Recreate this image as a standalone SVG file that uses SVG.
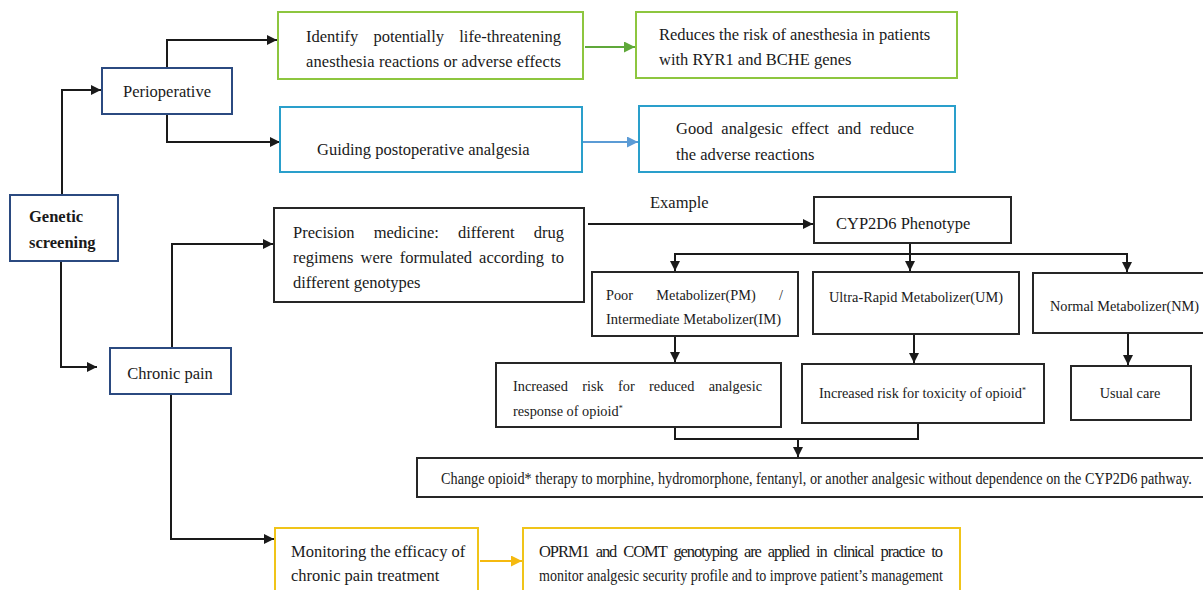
<svg xmlns="http://www.w3.org/2000/svg" width="1203" height="590" viewBox="0 0 1203 590">
<style>
text{font-family:"Liberation Serif","Times New Roman",serif;fill:#1a1a1a;font-size:16.5px}
.s{font-size:14.3px}
.b{font-weight:bold}
.sup{font-size:8px;baseline-shift:5px}
.box{fill:#fff;stroke:#262626;stroke-width:2}
.navy{fill:#fff;stroke:#2B4A80;stroke-width:2}
.green{fill:#fff;stroke:#8DC63F;stroke-width:2}
.blue{fill:#fff;stroke:#2A9FCB;stroke-width:2}
.yellow{fill:#fff;stroke:#F0C419;stroke-width:2}
.c{fill:none;stroke:#1a1a1a;stroke-width:2}
</style>
<defs>
<marker id="ah" viewBox="0 0 10 10" refX="10" refY="5" markerWidth="10" markerHeight="10" markerUnits="userSpaceOnUse" orient="auto"><path d="M0,0L10,5L0,10z" fill="#1a1a1a"/></marker>
<marker id="ahg" viewBox="0 0 10 10" refX="10" refY="5" markerWidth="11" markerHeight="11" markerUnits="userSpaceOnUse" orient="auto"><path d="M0,0L10,5L0,10z" fill="#5FA83A"/></marker>
<marker id="ahb" viewBox="0 0 10 10" refX="10" refY="5" markerWidth="11" markerHeight="11" markerUnits="userSpaceOnUse" orient="auto"><path d="M0,0L10,5L0,10z" fill="#5B9BD5"/></marker>
<marker id="ahy" viewBox="0 0 10 10" refX="10" refY="5" markerWidth="11" markerHeight="11" markerUnits="userSpaceOnUse" orient="auto"><path d="M0,0L10,5L0,10z" fill="#F5B90F"/></marker>
</defs>
<rect width="1203" height="590" fill="#fff"/>
<g id="connectors">
<path class="c" d="M62,195V90H101" marker-end="url(#ah)"/>
<path class="c" d="M61,261V367H97" marker-end="url(#ah)"/>
<path class="c" d="M167,68V40H277" marker-end="url(#ah)"/>
<path class="c" d="M167,114V142H280" marker-end="url(#ah)"/>
<path d="M585,47H635" fill="none" stroke="#5FA83A" stroke-width="2" marker-end="url(#ahg)"/>
<path d="M583,142H638" fill="none" stroke="#5B9BD5" stroke-width="2" marker-end="url(#ahb)"/>
<path class="c" d="M172,348V244H273" marker-end="url(#ah)"/>
<path class="c" d="M171,394V539H274" marker-end="url(#ah)"/>
<path d="M480,561H522" fill="none" stroke="#F5B90F" stroke-width="2" marker-end="url(#ahy)"/>
<path class="c" d="M588,224H813" marker-end="url(#ah)"/>
<path class="c" d="M910,243V254"/>
<path class="c" d="M674,254H1128"/>
<path class="c" d="M675,253V271" marker-end="url(#ah)"/>
<path class="c" d="M910,253V271" marker-end="url(#ah)"/>
<path class="c" d="M1127,253V272" marker-end="url(#ah)"/>
<path class="c" d="M675,336V362" marker-end="url(#ah)"/>
<path class="c" d="M914,334V363" marker-end="url(#ah)"/>
<path class="c" d="M1128,333V365" marker-end="url(#ah)"/>
<path class="c" d="M675,427V439H918V423"/>
<path class="c" d="M798,439V457" marker-end="url(#ah)"/>
</g>
<g id="genetic-screening">
<rect class="navy" x="10" y="195" width="108" height="66"/>
<text class="b" x="29" y="222">Genetic</text>
<text class="b" x="29" y="248">screening</text>
</g>
<g id="perioperative">
<rect class="navy" x="102" y="68" width="130" height="46"/>
<text x="167" y="97" text-anchor="middle">Perioperative</text>
</g>
<g id="chronic-pain">
<rect class="navy" x="110" y="348" width="121" height="46"/>
<text x="170" y="379" text-anchor="middle">Chronic pain</text>
</g>
<g id="identify">
<rect class="green" x="278" y="12" width="305" height="67"/>
<text x="306" y="42" word-spacing="11" textLength="255" lengthAdjust="spacing">Identify potentially life-threatening</text>
<text x="306" y="67" textLength="255" lengthAdjust="spacing">anesthesia reactions or adverse effects</text>
</g>
<g id="reduces">
<rect class="green" x="636" y="12" width="321" height="66"/>
<text x="659" y="40">Reduces the risk of anesthesia in patients</text>
<text x="659" y="65">with RYR1 and BCHE genes</text>
</g>
<g id="guiding">
<rect class="blue" x="280" y="107" width="302" height="65"/>
<text x="317" y="155">Guiding postoperative analgesia</text>
</g>
<g id="good">
<rect class="blue" x="639" y="106" width="316" height="66"/>
<text x="676" y="134" word-spacing="4.5" textLength="238" lengthAdjust="spacing">Good analgesic effect and reduce</text>
<text x="676" y="160">the adverse reactions</text>
</g>
<g id="precision">
<rect class="box" x="274" y="208" width="310" height="94"/>
<text x="293" y="238" word-spacing="15" textLength="271" lengthAdjust="spacing">Precision medicine: different drug</text>
<text x="293" y="263" word-spacing="3" textLength="271" lengthAdjust="spacing">regimens were formulated according to</text>
<text x="293" y="288">different genotypes</text>
</g>
<g id="example-label">
<text x="650" y="208">Example</text>
</g>
<g id="cyp2d6">
<rect class="box" x="814" y="197" width="197" height="46"/>
<text x="836" y="229">CYP2D6 Phenotype</text>
</g>
<g id="pm-im">
<rect class="box" x="592" y="272" width="206" height="64"/>
<text class="s" x="606" y="300" word-spacing="19.8" textLength="177" lengthAdjust="spacing">Poor Metabolizer(PM) /</text>
<text class="s" x="606" y="324" textLength="175" lengthAdjust="spacingAndGlyphs">Intermediate Metabolizer(IM)</text>
</g>
<g id="um">
<rect class="box" x="813" y="272" width="206" height="62"/>
<text class="s" x="829" y="302" textLength="174" lengthAdjust="spacingAndGlyphs">Ultra-Rapid Metabolizer(UM)</text>
</g>
<g id="nm">
<rect class="box" x="1033" y="273" width="190" height="60"/>
<text class="s" x="1050" y="311" textLength="149" lengthAdjust="spacingAndGlyphs">Normal Metabolizer(NM)</text>
</g>
<g id="pm-result">
<rect class="box" x="496" y="363" width="285" height="64"/>
<text class="s" x="513" y="391" word-spacing="10.8" textLength="249" lengthAdjust="spacing">Increased risk for reduced analgesic</text>
<text class="s" x="513" y="416">response of opioid<tspan class="sup">*</tspan></text>
</g>
<g id="um-result">
<rect class="box" x="802" y="364" width="242" height="59"/>
<text class="s" x="819" y="398">Increased risk for toxicity of opioid<tspan class="sup">*</tspan></text>
</g>
<g id="usual-care">
<rect class="box" x="1071" y="366" width="120" height="54"/>
<text class="s" x="1130" y="398" text-anchor="middle">Usual care</text>
</g>
<g id="change-opioid">
<rect class="box" x="417" y="458" width="800" height="39"/>
<text transform="translate(441,484) scale(0.865,1)" x="0" y="0" font-size="14">Change opioid* therapy to morphine, hydromorphone, fentanyl, or another analgesic without dependence on the CYP2D6 pathway.</text>
</g>
<g id="monitoring">
<rect class="yellow" x="275" y="528" width="203" height="72"/>
<text x="291" y="557">Monitoring the efficacy of</text>
<text x="291" y="581">chronic pain treatment</text>
</g>
<g id="oprm1">
<rect class="yellow" x="523" y="528" width="437" height="72"/>
<text x="539" y="557" font-size="14" word-spacing="4" textLength="404" lengthAdjust="spacing">OPRM1 and COMT genotyping are applied in clinical practice to</text>
<text x="539" y="581" font-size="14" textLength="404" lengthAdjust="spacingAndGlyphs">monitor analgesic security profile and to improve patient’s management</text>
</g>
</svg>
